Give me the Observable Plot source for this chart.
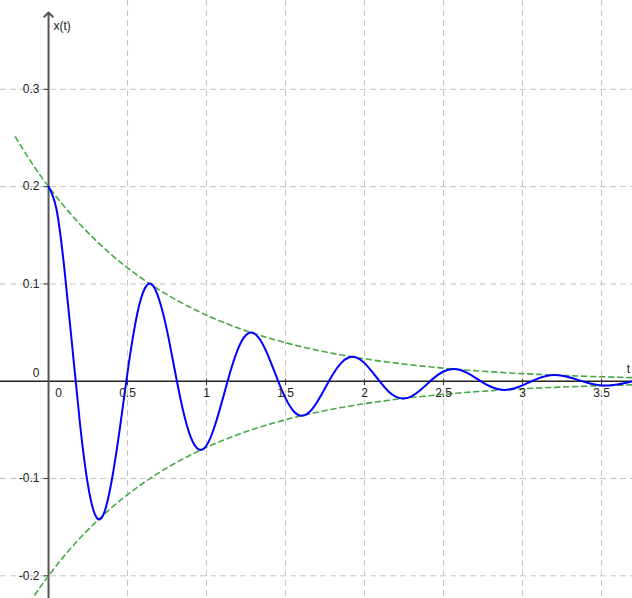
<!DOCTYPE html>
<html><head><meta charset="utf-8">
<script src="https://cdn.jsdelivr.net/npm/d3@7"></script>
<script src="https://cdn.jsdelivr.net/npm/@observablehq/plot@0.6"></script>
<style>html,body{margin:0;padding:0;background:#fff;} #chart svg{display:block}</style>
</head><body><div id="chart"></div>
<script>
// damped oscillation x(t)
const tSamples = [0,0.05,0.1,0.15,0.2,0.25,0.3,0.35,0.4,0.45,0.5,0.55,0.6,0.65,0.7,0.75,0.8,0.85,0.9,0.95,
  1,1.05,1.1,1.15,1.2,1.25,1.3,1.35,1.4,1.45,1.5,1.55,1.6,1.65,1.7,1.75,1.8,1.85,1.9,1.95,
  2,2.05,2.1,2.15,2.2,2.25,2.3,2.35,2.4,2.45,2.5,2.55,2.6,2.65,2.7,2.75,2.8,2.85,2.9,2.95,
  3,3.05,3.1,3.15,3.2,3.25,3.3,3.35,3.4,3.45,3.5,3.55,3.6,3.65,3.7,3.75];
const xSamples = [0.200,0.177,0.116,0.036,-0.045,-0.107,-0.139,-0.136,-0.102,-0.050,0.009,0.060,0.092,0.100,0.084,0.052,0.0105,-0.029,-0.0575,-0.070,
  -0.066,-0.047,-0.0196,0.0095,0.0335,0.0475,0.0493,0.0398,0.0223,0.0015,-0.0174,-0.0306,-0.0354,-0.0318,-0.0213,-0.0072,0.0072,0.0184,0.0244,0.0242,
  0.0186,0.0094,-0.0010,-0.0102,-0.0160,-0.0177,-0.0152,-0.0095,-0.0023,0.0047,0.0100,0.0124,0.0118,0.0086,0.0038,-0.0014,-0.0057,-0.0083,-0.0088,-0.0072,
  -0.0042,-0.0005,0.0029,0.0053,0.0063,0.0057,0.0039,0.0014,-0.0011,-0.0032,-0.0043,-0.0043,-0.0034,-0.0018,0.0001,0.0017];
// envelope (dashed green)
const envT = [-0.21,-0.1,0,0.1,0.2,0.3,0.4,0.5,0.6,0.7,0.8,0.9,1,1.1,1.2,1.3,1.4,1.5,1.6,1.7,1.8,1.9,
  2,2.1,2.2,2.3,2.4,2.5,2.6,2.7,2.8,2.9,3,3.1,3.2,3.3,3.4,3.5,3.6,3.7];
const envUpper = [0.251,0.2228,0.2,0.1795,0.1611,0.1447,0.1298,0.1165,0.1046,0.0939,0.0843,0.0757,0.0679,0.0610,0.0547,0.0491,0.0441,0.0396,0.0355,0.0319,0.0286,0.0257,
  0.0231,0.0207,0.0186,0.0167,0.0150,0.0134,0.0121,0.0108,0.0097,0.0087,0.0078,0.0070,0.0063,0.0057,0.0051,0.0046,0.0041,0.0037];
const envLower = [-0.251,-0.2228,-0.2,-0.1795,-0.1611,-0.1447,-0.1298,-0.1165,-0.1046,-0.0939,-0.0843,-0.0757,-0.0679,-0.0610,-0.0547,-0.0491,-0.0441,-0.0396,-0.0355,-0.0319,-0.0286,-0.0257,
  -0.0231,-0.0207,-0.0186,-0.0167,-0.0150,-0.0134,-0.0121,-0.0108,-0.0097,-0.0087,-0.0078,-0.0070,-0.0063,-0.0057,-0.0051,-0.0046,-0.0041,-0.0037];
const xTicks = [0,0.5,1,1.5,2,2.5,3,3.5];
const xTickLabels = ["0","0.5","1","1.5","2","2.5","3","3.5"];
const yTicks = [-0.2,-0.1,0,0.1,0.2,0.3];
const yTickLabels = ["-0.2","-0.1","0","0.1","0.2","0.3"];
const xDomain = [-0.304, 3.696];
const yDomain = [-0.2233, 0.3913];
const yArrowTip = 0.379;
const xAxisLabel = "t";
const yAxisLabel = "x(t)";

const curve = tSamples.map((t, i) => ({t, x: xSamples[i]}));
const env = envT.map((t, i) => ({t, up: envUpper[i], lo: envLower[i]}));
const xt = xTicks.map((v, i) => ({v, label: xTickLabels[i]}));
const yt = yTicks.map((v, i) => ({v, label: yTickLabels[i]}));

const gridStyle = {stroke: "#c4c4c4", strokeOpacity: 1, strokeWidth: 1, strokeDasharray: "6,4"};
const txt = {fill: "#222", fontSize: 12};
const green = {stroke: "#44aa44", strokeWidth: 1.6, strokeDasharray: "5,4", curve: "natural", clip: true};

const chart = Plot.plot({
  width: 632, height: 598, margin: 0,
  x: {domain: xDomain, axis: null},
  y: {domain: yDomain, axis: null},
  style: {background: "white", fontFamily: "'Liberation Sans', Arial, sans-serif", fontSize: "12px"},
  marks: [
    Plot.gridX(xTicks.filter(v => v !== 0), gridStyle),
    Plot.gridY(yTicks.filter(v => v !== 0), gridStyle),
    Plot.ruleY([0], {stroke: "#222", strokeWidth: 1.5}),
    Plot.arrow([0], {x1: 0, y1: yDomain[0], x2: 0, y2: yArrowTip, stroke: "#555", strokeWidth: 2, headAngle: 90, headLength: 4.5}),
    Plot.ruleX(xt.filter(d => d.v !== 0), {x: "v", y1: 0.002, y2: -0.0045, stroke: "#333", strokeWidth: 1}),
    Plot.ruleY(yt.filter(d => d.v !== 0), {y: "v", x1: -0.028, x2: 0, stroke: "#333", strokeWidth: 1}),
    Plot.line(env, {x: "t", y: "up", ...green}),
    Plot.line(env, {x: "t", y: "lo", ...green}),
    Plot.line(curve, {x: "t", y: "x", curve: "natural", stroke: "#0000ff", strokeWidth: 2, clip: true}),
    Plot.text(xt.filter(d => d.v !== 0), {x: "v", y: 0, text: "label", dy: 12, ...txt}),
    Plot.text(xt.filter(d => d.v === 0), {x: "v", y: 0, text: "label", dy: 12, dx: 10, ...txt}),
    Plot.text(yt.filter(d => d.v !== 0), {x: 0, y: "v", text: "label", textAnchor: "end", dx: -9, ...txt}),
    Plot.text(yt.filter(d => d.v === 0), {x: 0, y: "v", text: "label", textAnchor: "end", dx: -9, dy: -8, ...txt}),
    Plot.text([yAxisLabel], {x: 0, y: yDomain[1], text: d => d, textAnchor: "start", dx: 5, dy: 26, ...txt}),
    Plot.text([xAxisLabel], {x: xDomain[1], y: 0, text: d => d, textAnchor: "middle", dx: -4, dy: -12, ...txt})
  ]
});
document.getElementById("chart").appendChild(chart);
</script>
</body></html>
